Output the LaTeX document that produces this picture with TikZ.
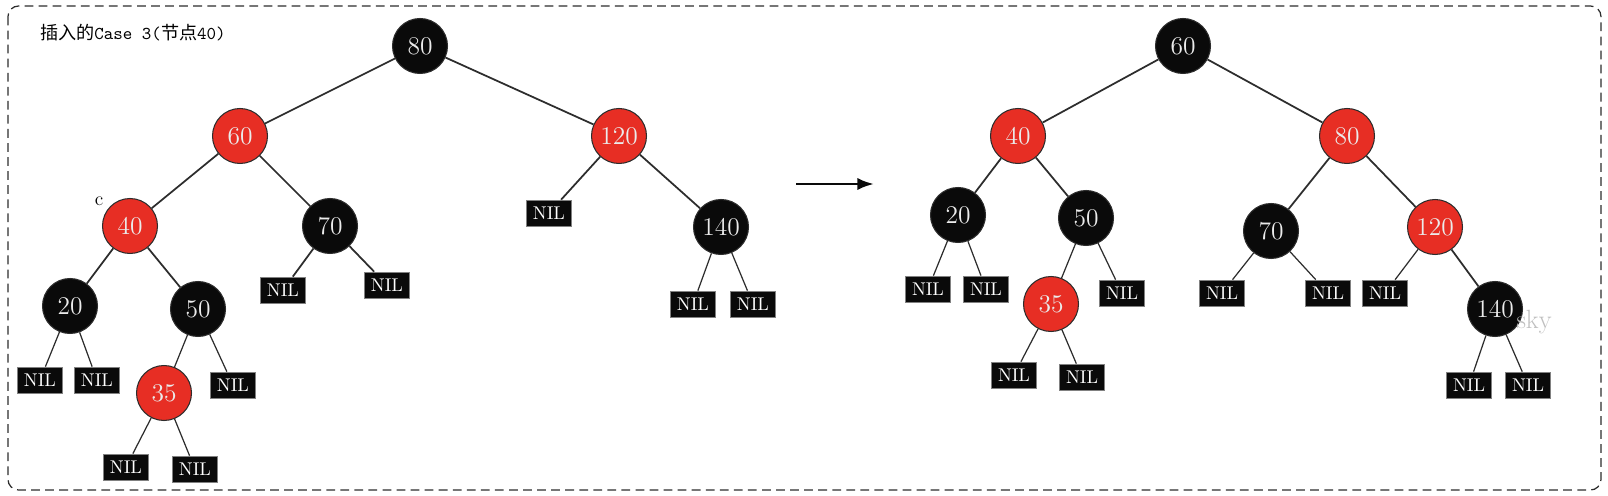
\documentclass[tikz,border=0pt]{standalone}
\usepackage{fontspec}
\usetikzlibrary{arrows.meta}
\usepackage{xcolor}
\newfontfamily\cjk{Noto Sans CJK SC}
\definecolor{RBRed}{RGB}{231,46,36}
\definecolor{RBBlack}{RGB}{10,10,10}
\definecolor{RBLine}{RGB}{45,45,45}

\begin{document}
\begin{tikzpicture}[
x=0.02cm,y=-0.02cm,
rb/.style={circle,draw=RBLine,line width=0.6pt,minimum size=1.1cm,inner sep=0pt,
text=white!92!black,font=\fontsize{14.5}{16}\selectfont},
rnode/.style={rb,fill=RBRed},
bnode/.style={rb,fill=RBBlack},
nil/.style={rectangle,fill=RBBlack,draw=RBLine!60,line width=0.4pt,minimum width=0.9cm,
minimum height=0.52cm,inner sep=0pt,text=white,font=\fontsize{10.5}{12}\selectfont},
link/.style={draw=RBLine,line width=1pt},
nillink/.style={draw=RBLine,line width=0.7pt},
arrow/.style={-{Latex[length=9.5pt,width=7pt]},line width=1.6pt,draw=RBBlack}
]
\useasboundingbox (0,0) rectangle (1608,496);
\draw[RBLine,line width=0.7pt,dash pattern=on 5pt off 3pt,rounded corners=6pt] (8,6) rectangle (1601,490);
\node[anchor=west,font=\fontsize{10.3}{12}\selectfont] (title) at (34,33) {{\cjk 插入的}\texttt{Case 3(}{\cjk 节点}\texttt{40)}};

% before
\node[bnode] (L80) at (420,46) {80};
\node[rnode] (L60) at (240,136) {60};
\node[rnode] (L120) at (619,136) {120};
\node[rnode] (L40) at (130,226) {40};
\node[font=\fontsize{11}{12}\selectfont] (lc) at (99,201) {c};
\node[bnode] (L70) at (330,226) {70};
\node[nil] (L120a) at (549,213) {NIL};
\node[bnode] (L140) at (721,227) {140};
\node[bnode] (L20) at (70,306) {20};
\node[bnode] (L50) at (198,309) {50};
\node[nil] (L70a) at (283,290) {NIL};
\node[nil] (L70b) at (387,285) {NIL};
\node[nil] (L140a) at (693,304) {NIL};
\node[nil] (L140b) at (753,304) {NIL};
\node[nil] (L20a) at (40,380) {NIL};
\node[nil] (L20b) at (97,380) {NIL};
\node[rnode] (L35) at (164,393) {35};
\node[nil] (L50b) at (233,385) {NIL};
\node[nil] (L35a) at (126,467) {NIL};
\node[nil] (L35b) at (195,469) {NIL};

\draw[link] (L80)--(L60); \draw[link] (L80)--(L120);
\draw[link] (L60)--(L40); \draw[link] (L60)--(L70);
\draw[link] (L120)--(L120a); \draw[link] (L120)--(L140);
\draw[link] (L40)--(L20); \draw[link] (L40)--(L50);
\draw[link] (L70)--(L70a); \draw[link] (L70)--(L70b);
\draw[nillink] (L140)--(L140a); \draw[nillink] (L140)--(L140b);
\draw[nillink] (L20)--(L20a); \draw[nillink] (L20)--(L20b);
\draw[nillink] (L50)--(L35); \draw[nillink] (L50)--(L50b);
\draw[nillink] (L35)--(L35a); \draw[nillink] (L35)--(L35b);

% arrow
\coordinate (from) at (796,184);
\coordinate (to) at (874,184);
\draw[arrow] (from)--(to);

% after
\node[bnode] (R60) at (1183,46) {60};
\node[rnode] (R40) at (1018,136) {40};
\node[rnode] (R80) at (1347,136) {80};
\node[bnode] (R20) at (958,215) {20};
\node[bnode] (R50) at (1086,218) {50};
\node[nil] (R20a) at (928,289) {NIL};
\node[nil] (R20b) at (986,289) {NIL};
\node[rnode] (R35) at (1051,304) {35};
\node[nil] (R50b) at (1122,293) {NIL};
\node[nil] (R35a) at (1014,375) {NIL};
\node[nil] (R35b) at (1082,377) {NIL};
\node[bnode] (R70) at (1271,231) {70};
\node[rnode] (R120) at (1435,227) {120};
\node[nil] (R70a) at (1222,293) {NIL};
\node[nil] (R70b) at (1328,293) {NIL};
\node[nil] (R120a) at (1385,293) {NIL};
\node[bnode] (R140) at (1495,309) {140};
\node[nil] (R140a) at (1469,385) {NIL};
\node[nil] (R140b) at (1528,385) {NIL};
\node[text=black!25,font=\fontsize{15}{17}\selectfont,inner sep=0pt] (sky) at (1534,322) {sky};

\draw[link] (R60)--(R40); \draw[link] (R60)--(R80);
\draw[link] (R40)--(R20); \draw[link] (R40)--(R50);
\draw[link] (R80)--(R70); \draw[link] (R80)--(R120);
\draw[nillink] (R20)--(R20a); \draw[nillink] (R20)--(R20b);
\draw[nillink] (R50)--(R35); \draw[nillink] (R50)--(R50b);
\draw[nillink] (R35)--(R35a); \draw[nillink] (R35)--(R35b);
\draw[nillink] (R70)--(R70a); \draw[nillink] (R70)--(R70b);
\draw[nillink] (R120)--(R120a); \draw[link] (R120)--(R140);
\draw[nillink] (R140)--(R140a); \draw[nillink] (R140)--(R140b);
\end{tikzpicture}
\end{document}
